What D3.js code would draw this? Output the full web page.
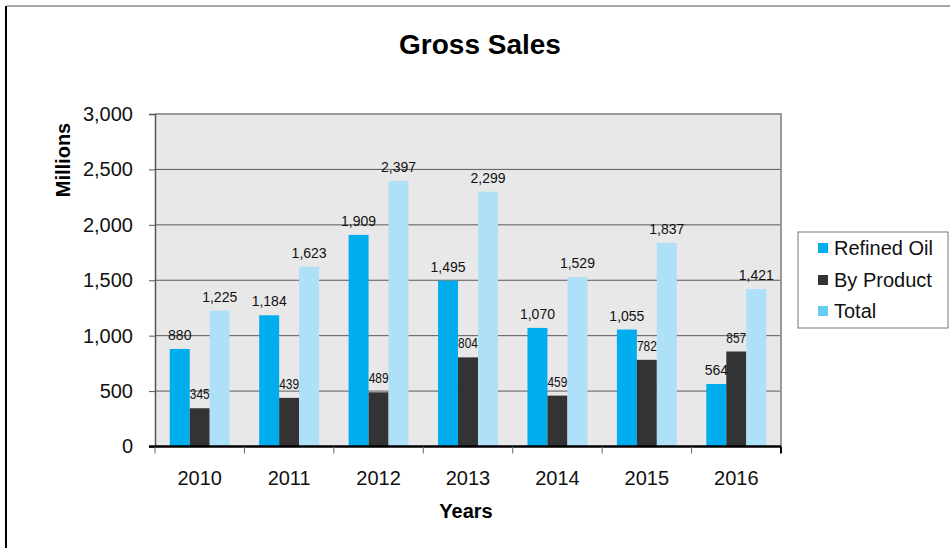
<!DOCTYPE html>
<html>
<head>
<meta charset="utf-8">
<script src="https://cdn.jsdelivr.net/npm/d3@7"></script>
<style>
  html, body { margin: 0; padding: 0; background: #fff; }
  svg { display: block; font-family: "Liberation Sans", Arial, sans-serif; }
</style>
</head>
<body>
<svg id="chart" width="950" height="548"></svg>
<script>
// 数据
const years = ['2010', '2011', '2012', '2013', '2014', '2015', '2016'];
const seriesNames = ['Refined Oil', 'By Product', 'Total'];
const refinedOil = [880, 1184, 1909, 1495, 1070, 1055, 564];
const byProduct = [345, 439, 489, 804, 459, 782, 857];
const total = [1225, 1623, 2397, 2299, 1529, 1837, 1421];
const yTicks = [0, 500, 1000, 1500, 2000, 2500, 3000];
const colors = ['#00aeef', '#333333', '#aee0f7'];

const seriesValues = [refinedOil, byProduct, total];

const svg = d3.select('#chart');

// 外框
svg.append('line').attr('x1', 7).attr('x2', 950).attr('y1', 6).attr('y2', 6)
    .attr('stroke', '#888').attr('stroke-width', 1.5);
svg.append('line').attr('x1', 6).attr('x2', 6).attr('y1', 6).attr('y2', 548)
    .attr('stroke', '#000').attr('stroke-width', 2);

// 绘图区范围（避免使用 top 这个全局名）
const plotL = 155, plotR = 781, plotT = 114, plotB = 446.5;
const plotW = plotR - plotL, plotH = plotB - plotT;

const x0 = d3.scaleBand().domain(years).range([plotL, plotR])
    .paddingInner(0.33).paddingOuter(0.165);
const x1 = d3.scaleBand().domain(seriesNames).range([0, x0.bandwidth()]);
const y = d3.scaleLinear().domain([0, 3000]).range([plotB, plotT]);

// 绘图区背景
svg.append('rect').attr('x', plotL).attr('y', plotT).attr('width', plotW).attr('height', plotH)
    .attr('fill', '#e8e8e8');

// 网格线
svg.append('g').selectAll('line')
    .data(yTicks.filter(d => d > 0 && d < 3000))
    .enter().append('line')
    .attr('x1', plotL).attr('x2', plotR)
    .attr('y1', d => y(d)).attr('y2', d => y(d))
    .attr('stroke', '#5a5a5a').attr('stroke-width', 1);

// 上边框和右边框
svg.append('path')
    .attr('d', `M${plotL},${plotT}H${plotR}V${plotB}`)
    .attr('fill', 'none').attr('stroke', '#999').attr('stroke-width', 2);

// 柱子
const rows = years.map((yr, i) => ({ year: yr, values: seriesNames.map((s, j) => ({ key: s, idx: j, value: seriesValues[j][i] })) }));

const groups = svg.append('g').selectAll('g')
    .data(rows).enter().append('g')
    .attr('transform', d => `translate(${x0(d.year)},0)`);

groups.selectAll('rect')
    .data(d => d.values).enter().append('rect')
    .attr('x', d => x1(d.key))
    .attr('y', d => y(d.value))
    .attr('width', x1.bandwidth())
    .attr('height', d => plotB - y(d.value))
    .attr('fill', d => colors[d.idx]);

// 数值标签（By Product 的标签字形较窄）
groups.selectAll('text')
    .data(d => d.values).enter().append('text')
    .attr('transform', d => {
        const cx = x1(d.key) + x1.bandwidth() / 2;
        const cy = y(d.value) - 9;
        return d.idx === 1 ? `translate(${cx},${cy}) scale(0.85,1)` : `translate(${cx},${cy})`;
    })
    .attr('text-anchor', 'middle')
    .attr('font-size', 14)
    .attr('fill', '#111')
    .text(d => d3.format(',')(d.value));

// y 轴
const yAxis = svg.append('g').attr('transform', `translate(${plotL},0)`)
    .call(d3.axisLeft(y).tickValues(yTicks).tickFormat(d3.format(',')).tickSize(6).tickPadding(16));
yAxis.select('.domain').attr('stroke', '#555').attr('stroke-width', 1.5);
yAxis.selectAll('.tick line').attr('stroke', '#555');
yAxis.selectAll('text').attr('font-size', 20).attr('fill', '#111')
    .attr('font-family', '"Liberation Sans", Arial, sans-serif');

// x 轴
const step = x0.step();
const boundaries = d3.range(years.length + 1).map(i => plotL + i * step);
svg.append('line').attr('x1', plotL - 6).attr('x2', plotR).attr('y1', plotB).attr('y2', plotB)
    .attr('stroke', '#000').attr('stroke-width', 2.5);
svg.append('g').selectAll('line')
    .data(boundaries).enter().append('line')
    .attr('x1', d => d).attr('x2', d => d)
    .attr('y1', plotB).attr('y2', plotB + 7)
    .attr('stroke', (d, i) => i === years.length ? '#000' : '#666')
    .attr('stroke-width', (d, i) => i === years.length ? 2 : 1);
svg.append('g').selectAll('text')
    .data(years).enter().append('text')
    .attr('x', d => x0(d) + x0.bandwidth() / 2)
    .attr('y', 485)
    .attr('text-anchor', 'middle')
    .attr('font-size', 20)
    .attr('fill', '#111')
    .text(d => d);

// 标题与轴标题
svg.append('text').attr('x', 480).attr('y', 54).attr('text-anchor', 'middle')
    .attr('font-size', 28).attr('font-weight', 'bold').attr('fill', '#000')
    .text('Gross Sales');
svg.append('text').attr('x', 466).attr('y', 518).attr('text-anchor', 'middle')
    .attr('font-size', 20).attr('font-weight', 'bold').attr('fill', '#000')
    .text('Years');
svg.append('text').attr('transform', 'translate(70,160) rotate(-90)').attr('text-anchor', 'middle')
    .attr('font-size', 20).attr('font-weight', 'bold').attr('fill', '#000')
    .text('Millions');

// 图例
const legend = svg.append('g');
legend.append('rect').attr('x', 798).attr('y', 232).attr('width', 150).attr('height', 96)
    .attr('fill', '#fff').attr('stroke', '#777').attr('stroke-width', 1);
const legendRows = [248, 280, 311];
seriesNames.forEach((s, i) => {
    legend.append('rect').attr('x', 818).attr('y', legendRows[i] - 5).attr('width', 10).attr('height', 10)
        .attr('fill', i === 2 ? '#66ccf0' : colors[i]);
    legend.append('text').attr('x', 834).attr('y', legendRows[i] + 7)
        .attr('font-size', 20).attr('fill', '#111').text(s);
});
</script>
</body>
</html>
